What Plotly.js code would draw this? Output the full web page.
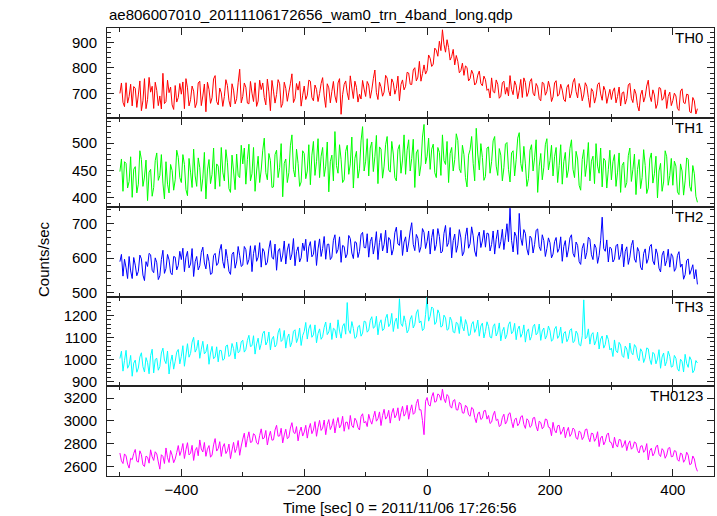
<!DOCTYPE html>
<html>
<head>
<meta charset="utf-8">
<script src="https://cdn.plot.ly/plotly-3.0.1.min.js"></script>
<style>html,body{margin:0;padding:0;background:#fff;}#chart{width:717px;height:516px;}</style>
</head>
<body>
<div id="chart"></div>
<script>
// Light-curve bins: start time and bin width (sec, relative to 2011/11/06 17:26:56)
const binStart = -500;
const binWidth = 2.5;

const bandNames = ["TH0", "TH1", "TH2", "TH3", "TH0123"];
const bandColors = ["#ff0000", "#00ff00", "#0000ff", "#00ffff", "#ff00ff"];

const th0 = [
700,741,665,648,742,662,688,736,651,727,720,645,694,749,632,671,758,640,676,763,705,728,641,744,712,652,690,639,779,660,668,752,703,725,655,637,731,666,684,739,
697,745,640,758,722,651,675,729,709,644,662,741,748,652,690,737,628,744,716,661,683,757,770,668,655,721,702,649,688,754,731,672,647,738,713,659,679,742,795,663,
688,741,724,662,659,747,701,668,742,649,670,752,715,741,684,655,756,706,632,751,709,662,696,754,738,645,661,744,720,669,705,738,777,664,680,739,713,747,650,693,
729,676,693,752,748,684,671,733,716,668,700,739,762,690,645,738,722,663,708,747,690,664,741,758,618,695,735,749,702,675,769,721,680,748,724,666,697,678,751,717,
688,747,733,681,714,758,792,703,676,744,726,689,705,771,760,711,690,757,742,697,719,768,671,735,753,714,728,783,780,736,735,792,801,749,764,826,748,778,812,776,
790,851,838,806,815,878,870,846,905,868,950,893,862,911,880,831,845,873,812,849,826,781,790,819,771,808,802,749,758,791,776,733,741,772,788,739,730,768,754,712,
718,682,761,707,702,753,736,681,689,742,748,697,724,690,770,716,695,749,731,679,712,755,684,761,743,688,705,747,758,701,690,739,726,680,671,744,739,693,708,748,
722,668,686,741,750,689,697,736,713,676,668,724,735,682,701,744,759,707,682,739,717,671,694,742,728,684,645,719,708,662,687,735,742,698,673,728,711,661,690,716,
676,709,722,663,688,725,651,702,706,658,679,733,740,681,664,717,698,652,631,694,713,666,687,729,752,690,668,714,694,641,659,723,720,673,682,714,641,688,705,652,
672,701,690,641,633,709,718,664,660,697,695,628,624,684,671,619,640];

const th1 = [
448,471,412,466,463,418,430,475,401,452,457,409,425,486,470,421,438,469,395,447,452,403,419,468,482,432,441,479,427,398,466,425,409,461,450,414,433,487,474,437,
428,479,461,415,404,472,447,419,489,440,421,473,455,412,436,483,398,451,470,426,443,491,416,462,458,421,492,447,431,488,465,417,410,478,449,415,480,441,437,496,
462,491,425,470,498,431,444,492,412,449,476,428,451,487,509,446,433,481,468,419,420,479,487,437,455,499,402,463,471,428,446,495,515,452,438,489,463,421,429,486,
481,435,449,497,424,478,503,441,466,508,437,476,492,439,458,502,411,466,478,431,521,459,445,497,470,428,433,485,496,443,462,511,418,472,485,436,453,504,530,449,
467,508,440,491,502,448,475,514,426,493,489,436,458,497,512,451,447,503,480,437,431,488,497,445,469,515,443,487,506,449,472,507,419,482,488,440,460,511,534,462,
476,509,452,489,498,446,437,492,483,441,515,468,461,503,428,481,492,449,470,517,505,453,446,496,479,437,420,478,488,512,463,431,527,480,451,499,474,432,439,491,
493,445,466,504,512,458,441,490,478,431,455,498,501,452,429,482,486,440,470,509,519,463,448,494,462,421,435,487,497,449,473,506,410,458,481,433,456,497,508,451,
468,496,440,475,492,428,459,497,425,466,483,437,451,490,506,452,437,485,471,423,414,470,488,439,462,501,431,467,476,426,499,458,445,491,420,472,468,418,452,487,
433,466,479,421,447,482,410,459,465,419,428,477,491,430,452,480,406,452,470,417,437,488,459,408,418,471,482,427,444,476,400,449,463,412,429,486,475,423,441,472,
423,467,458,411,406,462,449,405,431,473,470,421,412,459,444,403,392];

const th2 = [
590,611,548,597,572,541,605,563,541,602,580,549,562,609,598,551,535,590,576,614,610,565,558,601,587,538,549,596,623,556,570,611,595,558,552,605,603,566,579,620,
596,629,561,603,620,572,583,628,547,590,605,566,578,617,632,586,569,612,591,553,556,608,614,579,586,623,640,590,571,626,599,562,553,611,618,571,589,634,607,576,
580,634,625,582,596,636,561,614,637,591,603,645,574,628,619,580,588,627,651,603,597,641,565,621,628,590,609,650,583,624,642,595,612,657,578,619,633,589,601,644,
622,655,590,633,648,604,611,651,579,627,656,605,628,663,597,640,641,596,603,652,668,614,625,662,588,637,634,601,612,666,657,615,599,648,645,602,620,668,675,631,
630,671,603,648,661,612,638,677,596,645,672,621,640,681,615,660,653,609,626,674,690,641,637,681,608,647,662,618,644,679,703,640,622,669,658,617,633,686,675,628,
648,679,612,660,684,622,639,686,663,615,620,672,695,634,645,689,601,651,670,617,638,683,659,607,618,664,688,629,642,691,665,621,605,662,676,631,650,681,632,673,
671,621,640,679,612,655,682,629,648,684,625,661,700,648,745,652,618,676,664,611,730,659,637,683,672,627,609,664,658,615,640,681,685,633,622,668,651,605,628,659,
645,601,612,648,660,617,628,662,591,634,651,603,624,659,668,614,603,647,637,590,582,629,643,598,617,661,655,610,596,641,630,585,608,652,719,628,620,653,589,632,
628,589,597,636,641,596,610,641,575,620,633,582,603,637,652,598,588,631,619,574,566,614,627,585,598,634,640,592,581,627,612,571,560,609,621,578,593,626,574,613,
604,562,571,608,619,574,583,539,552,593,598,553,566,581,540,567,524];

const th3 = [
1005,1038,948,996,1042,961,976,1019,925,984,998,943,962,1012,1031,968,944,1009,987,936,1018,1047,940,1001,1006,952,969,1030,1052,998,982,1039,935,990,1021,957,993,1034,1046,981,
1015,1063,970,1021,1072,1011,1028,1079,1101,1034,1049,1088,1006,1047,1083,1026,1035,1069,979,1030,1060,1004,1012,1058,990,1042,1041,997,1003,1061,1066,1014,1022,1073,1050,1003,1079,1031,1037,1080,
1088,1034,1046,1087,1110,1059,1063,1108,1025,1071,1097,1045,1072,1118,1129,1066,1081,1125,1044,1093,1105,1057,1068,1121,1141,1082,1090,1132,1052,1099,1116,1058,1079,1128,1135,1077,1098,1143,1064,1109,
1127,1168,1093,1139,1158,1101,1112,1157,1076,1118,1139,1092,1104,1146,1170,1113,1125,1166,1091,1142,1136,1098,1180,1129,1097,1151,1163,1115,1258,1134,1118,1172,1141,1096,1102,1149,1155,1106,1120,1174,
1171,1124,1133,1178,1194,1142,1148,1196,1112,1163,1180,1131,1139,1187,1205,1149,1162,1209,1127,1171,1188,1140,1275,1162,1150,1198,1168,1121,1135,1182,1199,1143,1160,1211,1226,1166,1175,1131,1140,1203,
1282,1174,1196,1238,1231,1159,1170,1225,1208,1147,1152,1201,1189,1133,1138,1192,1176,1125,1121,1169,1163,1118,1195,1149,1130,1181,1158,1109,1112,1160,1172,1123,1141,1179,1106,1152,1165,1098,1127,1171,
1150,1102,1098,1149,1162,1107,1124,1166,1085,1128,1146,1094,1113,1158,1171,1117,1128,1164,1090,1137,1152,1101,1118,1157,1079,1126,1139,1088,1105,1149,1160,1112,1121,1161,1087,1130,1143,1093,1110,1152,
1131,1083,1092,1138,1150,1096,1108,1147,1074,1119,1127,1081,1095,1133,1140,1077,1083,1129,1116,1068,1062,1108,1270,1094,1101,1139,1070,1113,1122,1066,1085,1124,1048,1093,1107,1052,1068,1111,1091,1044,
1052,1014,1089,1040,1031,1078,1066,1019,1010,1061,1048,1004,1075,1032,1022,1068,1057,1011,995,1049,1036,987,1008,1053,1049,1001,978,1033,1025,981,1003,1045,961,1012,1030,972,992,1038,1015,966,
970,1019,1006,959,948,1002,991,944,1024,983,965,1013,998,941,952,996,985];

const th0123 = [
2720,2651,2628,2712,2695,2623,2588,2674,2662,2716,2751,2648,2640,2739,2706,2617,2602,2693,2683,2631,2748,2687,2655,2731,2712,2642,2579,2705,2690,2628,2764,2679,2637,2742,2701,2635,2668,2724,2785,2698,
2740,2803,2672,2749,2810,2703,2718,2787,2655,2741,2768,2696,2834,2755,2729,2812,2691,2754,2785,2683,2702,2791,2846,2737,2758,2819,2690,2772,2802,2715,2739,2798,2671,2746,2813,2724,2760,2829,2700,2781,
2842,2893,2771,2847,2905,2812,2818,2889,2876,2809,2796,2874,2931,2843,2852,2917,2790,2861,2910,2832,2835,2921,2962,2867,2869,2936,2808,2878,2928,2845,2857,2938,2985,2901,2890,2951,2826,2905,2947,2868,
2903,2962,2850,2931,2978,2889,2921,2994,2866,2943,3005,2917,2937,3008,2880,2969,3012,2925,2958,3019,2895,2976,3030,2939,2965,3041,2910,2988,2990,2927,3048,2960,2942,3024,3001,2943,2921,3039,3063,2982,
2996,2951,3058,3006,2972,3031,3085,2998,3020,3079,2960,3047,3102,3016,3037,3093,2981,3068,3110,3027,3052,3115,3003,3074,3128,3042,3066,3137,3015,3089,3141,3058,3072,3153,3190,3096,3098,3004,2880,3172,
3205,3141,3130,3211,3248,3164,3171,3236,3226,3181,3278,3195,3160,3231,3214,3129,3112,3176,3187,3098,3095,3162,3150,3071,3068,3137,3122,3054,3041,3118,3106,3029,2985,3061,3079,3013,3024,3088,3092,3016,
3048,2978,2990,3052,3085,3004,3016,2951,2962,3029,3059,2973,2998,3061,3072,2996,2941,3012,3025,2958,2978,3037,3046,2969,2935,3019,3004,2944,2957,3026,3031,2955,2912,2998,2986,2931,2950,3017,3012,2946,
2940,2871,2988,2919,2896,2958,2962,2883,2910,2947,2853,2909,2944,2865,2887,2938,2925,2852,2840,2912,2901,2837,2862,2924,2930,2856,2818,2893,2889,2822,2847,2906,2776,2851,2868,2791,2820,2879,2895,2816,
2810,2763,2858,2794,2772,2838,2835,2768,2790,2829,2741,2799,2826,2753,2768,2817,2807,2742,2720,2779,2784,2726,2745,2802,2660,2741,2762,2695,2718,2773,2790,2709,2689,2758,2740,2674,2702,2761,2768,2687,
2690,2741,2735,2662,2648,2719,2710,2639,2662,2727,2701,2618,2625,2694,2668,2597,2560];

const series = [th0, th1, th2, th3, th0123];

// axis settings per panel
const yRanges = [[605, 957], [383, 546.5], [488, 748], [879, 1284], [2519, 3302]];
const yMajor = [100, 50, 100, 100, 200];
const yMinor = [20, 10, 20, 20, 100];

const font = {family: "Liberation Sans, Arial, Helvetica, sans-serif", size: 15, color: "#000"};
const axisColor = "#222";

const traces = series.map((vals, k) => ({
  x: vals.map((_, i) => binStart + i * binWidth),
  y: vals,
  type: "scatter",
  mode: "lines",
  line: {color: bandColors[k], width: 1, simplify: false},
  xaxis: k === 0 ? "x" : "x" + (k + 1),
  yaxis: k === 0 ? "y" : "y" + (k + 1),
  hoverinfo: "skip",
  showlegend: false
}));

const layout = {
  width: 717, height: 516,
  margin: {l: 107, r: 3, t: 28, b: 40, pad: 0},
  paper_bgcolor: "#fff", plot_bgcolor: "#fff",
  font: font,
  showlegend: false,
  annotations: []
};

const nP = 5;
for (let k = 0; k < nP; k++) {
  const sfx = k === 0 ? "" : String(k + 1);
  const lo = (nP - 1 - k) / nP, hi = (nP - k) / nP;
  const xa = {
    range: [-521, 467], domain: [0, 1],
    anchor: "y" + sfx,
    showline: true, mirror: "allticks", linecolor: axisColor, linewidth: 1,
    ticks: "inside", ticklen: 7, tickwidth: 1, tickcolor: axisColor,
    tick0: 0, dtick: 200,
    minor: {dtick: 100, ticks: "inside", ticklen: 4, tickwidth: 1, tickcolor: axisColor, showgrid: false},
    showgrid: false, zeroline: false,
    showticklabels: k === nP - 1,
    ticklabelstandoff: 0,
    tickfont: font
  };
  if (k > 0) xa.matches = "x";
  layout["xaxis" + sfx] = xa;
  layout["yaxis" + sfx] = {
    range: yRanges[k], domain: [lo, hi],
    anchor: "x" + sfx,
    showline: true, mirror: "allticks", linecolor: axisColor, linewidth: 1,
    ticks: "inside", ticklen: 7, tickwidth: 1, tickcolor: axisColor,
    tick0: 0, dtick: yMajor[k],
    minor: {dtick: yMinor[k], ticks: "inside", ticklen: 4, tickwidth: 1, tickcolor: axisColor, showgrid: false},
    showgrid: false, zeroline: false,
    ticklabelstandoff: 6,
    tickfont: font
  };
  layout.annotations.push({
    text: bandNames[k], xref: "paper", yref: "paper",
    x: 0.985, y: hi, xanchor: "right", yanchor: "top", yshift: 1,
    showarrow: false, font: font
  });
}

// titles
layout.annotations.push({
  text: "ae806007010_20111106172656_wam0_trn_4band_long.qdp",
  xref: "paper", yref: "paper", x: 0, y: 1, xanchor: "left", yanchor: "bottom",
  yshift: 3, showarrow: false, font: font
});
layout.annotations.push({
  text: "Time [sec] 0 = 2011/11/06 17:26:56",
  xref: "paper", yref: "paper", x: 0.483, y: 0, xanchor: "center", yanchor: "top",
  yshift: -21, showarrow: false, font: font
});
layout.annotations.push({
  text: "Counts/sec",
  xref: "paper", yref: "paper", x: -0.105, y: 0.485, xanchor: "center", yanchor: "middle",
  textangle: -90, showarrow: false, font: font
});

Plotly.newPlot("chart", traces, layout, {staticPlot: true, displayModeBar: false});
</script>
</body>
</html>
